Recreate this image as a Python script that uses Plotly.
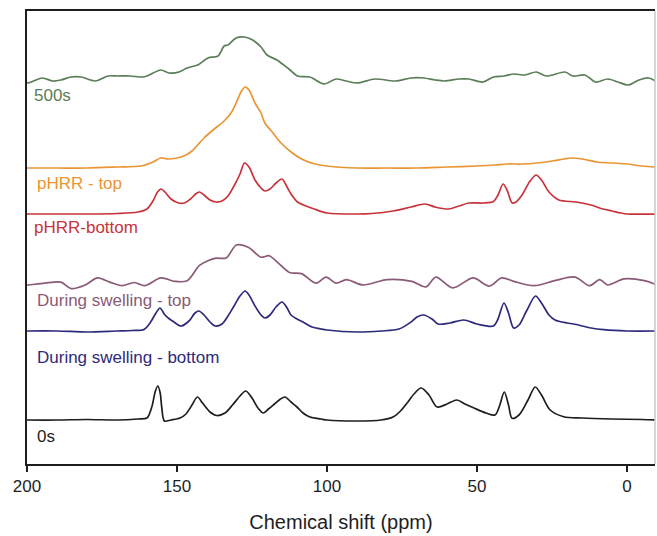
import plotly.graph_objects as go

# ---- data ----
names = ["500s", "pHRR - top", "pHRR-bottom", "During swelling - top",
         "During swelling - bottom", "0s"]
colors = ["#5b7d58", "#e99535", "#c8333b", "#8a5a76", "#2e2a7b", "#1e1e1e"]
offsets = [384, 296, 250, 179, 133, 44]

ppm_500s = [200, 199.7, 194.9, 191.4, 188.7, 185.3, 182, 177.2, 173, 169.7, 165.7, 161.5, 160,
            155.4, 152.7, 149.3, 146.7, 143.1, 139.7, 136.3, 134.3, 133, 130.3, 127.5, 124.8,
            122, 120, 116.7, 112.7, 109.8, 105.7, 101, 97, 93.6, 90, 84, 77.2, 72, 67.7, 64,
            60.8, 56, 52.7, 48, 44.5, 41, 37.7, 34, 30.3, 26.8, 20.7, 18, 14, 10.5, 6.4, 3,
            -0.3, -4, -7.2, -10]
int_500s = [-2, -3, 2, -1, 0, 3, 3, -1, 4, 4, 4, 3, 4,
            10, 7, 8, 12, 15, 22, 24, 34, 35, 42, 43, 40,
            33, 25, 20, 11, 4, 3, -4, 1, -1, -3, 1, -1, 2, 2, 0,
            -1, 1, 1, -2, 3, 4, 6, 5, 8, 4, 8, 4, 5, -2, 1, -2,
            -5, 0, 2, -2]

ppm_phrr_top = [200, 190, 180, 170, 162, 158, 155.4, 153, 150, 147, 145, 141, 138, 134.3,
                132, 130.3, 128.5, 127.3, 126, 124, 122, 120.7, 118, 115.3, 112, 108.5, 104,
                100, 90, 80, 70, 60, 50, 44, 40, 35, 30, 25, 21, 18.7, 15, 10, 5, 0, -5, -10]
int_phrr_top = [0, 0, 0, 1, 2, 6, 10, 9, 10, 13, 17, 30, 38, 47,
                55, 65, 77, 81, 78, 65, 55, 45, 35, 25, 16, 9, 4,
                2, 0, 0, 0, 1, 2, 3, 4, 4, 5, 7, 9, 10, 9, 6, 5, 4, 2, 1]

ppm_phrr_bot = [200, 180, 170, 163, 160, 158, 156.5, 155.3, 154, 152, 149.5, 147.5, 145.5,
                143.8, 142.6, 141, 139, 137, 135, 133, 131, 129, 127.5, 126, 124, 122, 120.7,
                119, 117, 115, 113.5, 112, 109.8, 107, 104.3, 100, 90, 85, 78, 72, 67.3, 64,
                59.5, 56, 52.7, 48, 44.5, 43, 41.3, 40, 38.3, 37, 35, 32.3, 30.3, 28.5, 26,
                22.7, 17, 12, 8, 5, 2, 0, -10]
int_phrr_bot = [0, 0, 0.5, 2, 5, 13, 22, 25, 22, 15, 11, 11, 15,
                20, 22, 19, 14, 12, 13, 18, 28, 40, 51, 47, 34, 26, 23,
                25, 31, 35, 28, 20, 12, 8, 5, 1, 0, 0.5, 3, 7, 10, 7,
                5, 8, 11, 11, 12.5, 19, 30, 24, 11, 12, 19, 33, 39, 34, 22,
                14, 12, 9, 5, 3, 1, 0, 0]

ppm_ds_top = [200, 199.6, 194.2, 188.7, 185.3, 180.6, 176.5, 172.4, 168.3, 164.2, 160.8,
              155.4, 150.7, 146.6, 142.5, 139.7, 137, 133.6, 130.2, 126.1, 122, 119.3, 116,
              112.5, 108.5, 103.7, 100.3, 97, 93.5, 88, 80, 71.7, 67, 63.7, 58.1, 51.3, 45.9,
              41.8, 37.7, 30.9, 24.1, 17.3, 12.5, 9.1, 6.4, 1, -5.8, -9.9]
int_ds_top = [0, 0, 1.8, 2.9, -3.6, 0, 7.1, 2.9, -0.7, 2.5, -0.7,
              7.1, 3.6, 4.3, 19.6, 24.3, 26.8, 27.1, 40, 37.5, 27.8, 29.3, 21.4,
              12.5, 11.4, 1.8, 7.9, 1.8, 5.4, 0, 5.4, 3.6, -1.8, 7.9, -2.9, 7.1, -1.1,
              7.1, 3.6, -0.7, 4.3, 7.9, -0.7, 5.4, 0, 6.1, 4.3, 0]

ppm_ds_bot = [200, 190, 180, 170, 165, 161, 159, 157, 155.7, 154, 152.5, 151, 148.7, 146,
              144, 142.7, 141, 139, 137.3, 135, 133, 131, 129, 127.3, 126, 124, 122, 120.7,
              119, 117, 115, 113.5, 112, 110, 108, 105, 102, 100, 90, 82, 76, 72, 70, 67.8,
              65, 63, 59, 54.4, 50, 44.5, 43, 41, 39.5, 37.8, 36, 33.5, 30.5, 28.5, 26, 24,
              20, 17.8, 12, 7.8, 0, -10]
int_ds_bot = [0, 0, -1, 0, 0.5, 1.5, 8, 18, 23, 16, 12, 9, 5, 10,
              18, 20, 16, 9, 5, 7, 15, 25, 35, 40, 36, 25, 16, 13,
              16, 24, 29, 24, 16, 12, 9, 4, 2, 1, -1, 0, 2, 9, 14, 16,
              12, 7, 8, 11, 7, 5, 12, 28, 18, 3, 6, 20, 35, 28, 16, 11,
              8, 7, 3, 1.3, 0, 0]

ppm_0s = [200, 190, 180, 170, 163, 160, 158.4, 157.2, 156.4, 155.6, 155.1, 154.2, 152, 149,
          147, 145, 143.2, 141.5, 139, 136.8, 134, 131.5, 129, 127.1, 125, 123, 121.2, 119.5,
          117.5, 115.5, 114, 112, 110, 108, 105.7, 102, 100, 90, 82, 78, 75.5, 73.3, 71, 68.6,
          66, 63.3, 60, 56.7, 54, 51, 47, 44, 42.5, 40.9, 39.5, 38.3, 36, 33, 30.6, 28.5, 25.6,
          21.1, 15, 5, -5, -10]
int_0s = [0, 0, 0.5, 0, 1, 2, 13, 29, 34, 27, 13, -1, 0, 2,
          6, 15, 23, 17, 8, 4.5, 7, 15, 24, 29, 22, 12, 7, 11,
          16, 21, 23, 18, 13, 7, 3, 1, 0, -1, 0, 3, 9, 17, 26, 32,
          25, 13, 16, 20, 16, 12, 7, 5, 14, 28, 15, 1.7, 5, 20, 33, 25, 10,
          3.3, 2, 1, 0.5, 0]

series = [(ppm_500s, int_500s), (ppm_phrr_top, int_phrr_top), (ppm_phrr_bot, int_phrr_bot),
          (ppm_ds_top, int_ds_top), (ppm_ds_bot, int_ds_bot), (ppm_0s, int_0s)]

# ---- figure ----
FONT = "Liberation Sans, Arial, sans-serif"
fig = go.Figure()
for name, color, off, (xs, ys) in zip(names, colors, offsets, series):
    fig.add_trace(go.Scatter(
        x=xs, y=[off + v for v in ys], mode="lines", name=name,
        line=dict(color=color, width=1.7, shape="spline", smoothing=0.85),
        showlegend=False, hoverinfo="skip"))

label_pos = [(198.3, 369), (197.3, 281), (198.3, 237), (197.3, 164), (197.3, 107), (197.3, 28)]
for name, color, (lx, ly) in zip(names, colors, label_pos):
    fig.add_annotation(x=lx, y=ly, text=name, showarrow=False, xanchor="left",
                       yanchor="middle", font=dict(family=FONT, size=17, color=color))

fig.add_shape(type="line", xref="paper", yref="paper", x0=1, x1=1, y0=0, y1=1,
              line=dict(color="#c8c8c8", width=1.5))

fig.update_layout(
    width=657, height=536,
    margin=dict(l=27, r=2, t=11, b=72),
    paper_bgcolor="white", plot_bgcolor="white",
    font=dict(family=FONT, size=17, color="#1e1e1e"),
    xaxis=dict(range=[200, -9.333], tickvals=[200, 150, 100, 50, 0],
               ticks="outside", ticklen=6, tickwidth=1.5, tickcolor="#1e1e1e",
               showline=True, linecolor="#1e1e1e", linewidth=2, mirror=True,
               showgrid=False, zeroline=False,
               tickfont=dict(family=FONT, size=17, color="#1e1e1e"),
               title=dict(text="Chemical shift (ppm)", standoff=20,
                          font=dict(family=FONT, size=20, color="#1e1e1e"))),
    yaxis=dict(range=[0, 453], showticklabels=False, ticks="", showgrid=False,
               zeroline=False, showline=True, linecolor="#1e1e1e", linewidth=2),
)

fig.write_html("out.html")
